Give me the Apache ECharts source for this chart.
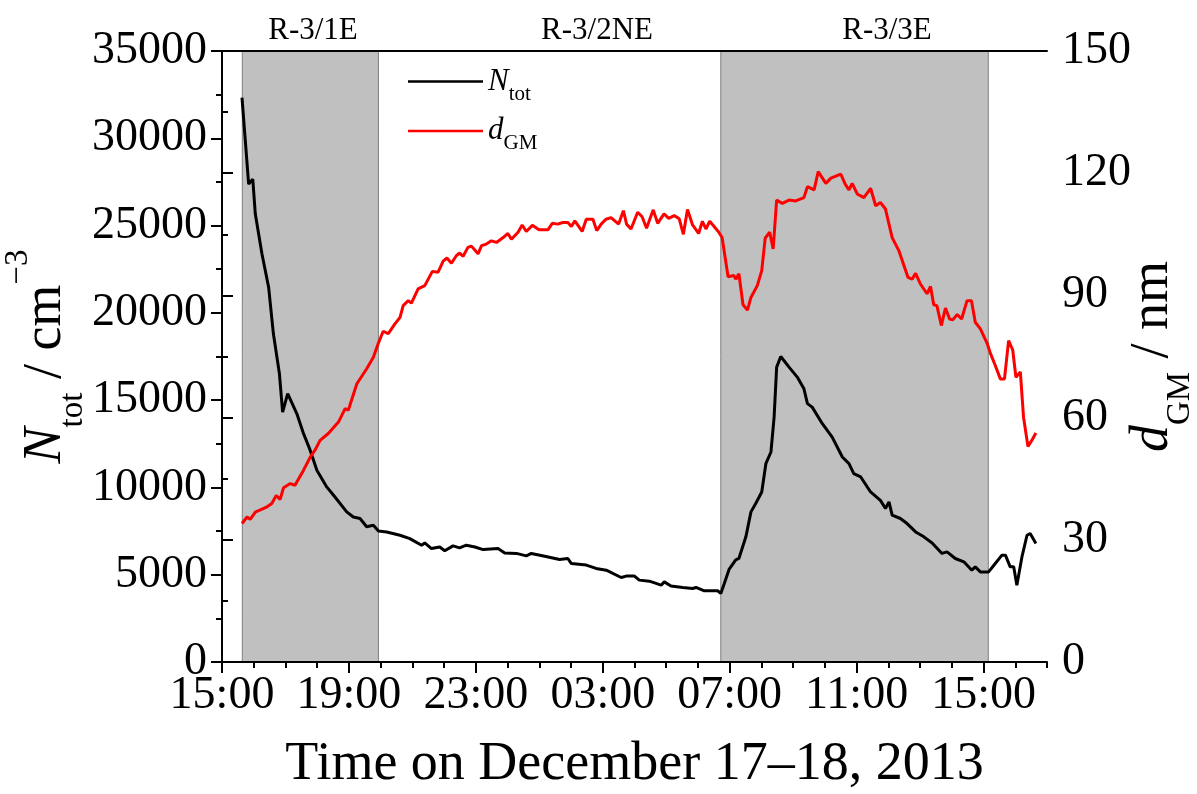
<!DOCTYPE html>
<html><head><meta charset="utf-8">
<script src="https://cdn.jsdelivr.net/npm/echarts@6/dist/echarts.min.js"></script>
<style>html,body{margin:0;padding:0;background:#fff}#c{width:1197px;height:794px}</style>
</head><body><div id="c"></div>
<script>
// time values: hours elapsed since 15:00 on 17 December 2013
const nTimes = [0.63,0.84,0.97,1.05,1.26,1.47,1.62,1.81,1.91,2.07,2.36,2.57,2.78,2.99,3.30,3.56,3.93,4.14,4.35,4.56,4.77,4.93,5.19,5.61,5.92,6.29,6.39,6.60,6.86,7.02,7.28,7.49,7.70,7.97,8.23,8.70,8.91,9.28,9.59,9.75,10.17,10.64,10.90,11.01,11.48,11.79,12.11,12.58,12.74,13.00,13.15,13.47,13.84,13.94,14.15,14.52,14.83,14.94,15.20,15.62,15.72,15.83,15.98,16.19,16.29,16.51,16.67,16.82,17.01,17.14,17.30,17.40,17.48,17.61,17.87,18.13,18.34,18.45,18.60,18.92,19.23,19.55,19.76,19.91,20.13,20.44,20.75,20.91,21.02,21.12,21.38,21.59,21.86,22.12,22.38,22.69,22.85,23.11,23.38,23.63,23.74,23.90,24.16,24.37,24.58,24.69,24.84,24.95,25.05,25.21,25.37,25.47,25.65];
const nValues = [32330,27380,27660,25660,23370,21460,18800,16510,14310,15370,14220,13080,12120,10980,10030,9450,8600,8310,8220,7750,7830,7500,7450,7260,7070,6690,6820,6500,6590,6370,6650,6540,6690,6590,6440,6500,6250,6220,6080,6220,6060,5870,5930,5640,5550,5360,5260,4840,4920,4920,4690,4630,4400,4590,4350,4270,4210,4270,4080,4080,3930,4500,5300,5850,5930,7170,8600,9080,9740,11360,12030,14030,16890,17500,16890,16320,15650,14800,14600,13650,12880,11740,11360,10790,10600,9740,9260,8790,9170,8410,8220,7930,7450,7170,6820,6220,6310,5930,5740,5260,5450,5160,5160,5640,6120,6120,5450,5450,4400,6020,7260,7360,6790];
const dTimes = [0.63,0.79,0.89,1.05,1.42,1.57,1.71,1.83,1.94,2.15,2.30,2.57,2.78,2.93,3.09,3.35,3.67,3.88,3.98,4.25,4.56,4.77,4.93,5.08,5.24,5.45,5.61,5.71,5.87,5.97,6.18,6.39,6.63,6.81,6.97,7.09,7.23,7.39,7.49,7.60,7.75,7.86,8.07,8.18,8.33,8.49,8.65,8.86,9.01,9.12,9.33,9.46,9.59,9.78,9.99,10.27,10.41,10.58,10.74,10.90,11.01,11.12,11.35,11.48,11.69,11.81,11.95,12.10,12.26,12.50,12.65,12.75,12.89,13.10,13.24,13.38,13.59,13.73,13.93,14.08,14.25,14.41,14.54,14.67,14.83,15.02,15.14,15.25,15.37,15.64,15.76,15.95,16.13,16.19,16.29,16.42,16.56,16.67,16.87,17.01,17.12,17.26,17.37,17.48,17.66,17.87,18.08,18.34,18.45,18.66,18.79,19.03,19.19,19.50,19.64,19.76,19.86,20.02,20.23,20.44,20.60,20.75,20.91,21.12,21.33,21.62,21.75,21.86,22.01,22.22,22.33,22.43,22.53,22.67,22.80,22.93,23.03,23.17,23.31,23.48,23.62,23.74,23.90,24.11,24.22,24.37,24.53,24.66,24.79,24.92,25.02,25.16,25.26,25.40,25.52,25.65];
const dValues = [34.0,35.6,35.0,36.8,38.1,38.9,40.9,39.9,42.8,43.8,43.4,47.1,50.3,52.0,54.4,56.1,58.9,62.2,61.8,68.3,72.0,74.8,78.3,81.2,80.6,83.0,84.6,87.5,88.7,88.1,91.6,92.4,95.9,95.7,98.4,99.2,97.9,99.8,100.4,99.6,101.8,102.1,100.2,102.2,102.6,103.4,103.0,104.2,105.2,103.8,105.5,107.3,105.7,107.2,106.1,106.1,107.7,107.5,107.9,107.9,106.9,108.3,105.7,108.7,108.7,105.9,107.5,108.7,109.1,107.5,110.8,107.5,106.3,110.4,109.3,106.5,111.0,107.7,110.0,108.9,109.6,108.8,105.0,111.1,107.3,105.2,108.2,106.3,108.2,105.7,104.2,94.6,94.9,94.0,95.3,87.7,86.4,89.5,92.4,96.1,104.1,105.5,101.4,113.4,112.6,113.4,113.2,114.0,116.7,115.9,120.4,117.5,118.8,119.8,117.3,115.9,117.5,114.9,114.0,116.3,112.0,112.8,111.2,104.2,101.0,94.4,94.0,95.4,92.8,90.4,92.2,87.7,87.5,82.6,86.9,84.2,84.0,85.3,84.2,88.7,88.7,83.4,81.8,78.3,75.7,72.8,69.5,69.5,78.9,76.6,69.9,71.2,60.1,52.9,54.4,56.2];
const shadedPeriods = [[0.64, 4.93], [15.72, 24.15]];
const periodLabels = ['R-3/1E', 'R-3/2NE', 'R-3/3E'];
const xTickLabels = ['15:00', '19:00', '23:00', '03:00', '07:00', '11:00', '15:00'];

const FONT = '"Liberation Serif","Times New Roman",serif';
const chart = echarts.init(document.getElementById('c'));
const tickStyle = { color: '#000', width: 2 };
const baseAxisLabel = { color: '#000', fontFamily: FONT, fontSize: 46 };

chart.setOption({
  animation: false,
  backgroundColor: '#fff',
  grid: { left: 222, right: 150, top: 51, bottom: 132, containLabel: false, outerBoundsMode: 'none' },
  legend: {
    left: 403, top: 61, orient: 'vertical', itemGap: 11,
    itemWidth: 75, itemHeight: 2.5, icon: 'rect', selectedMode: false,
    data: ['Ntot', 'dGM'],
    formatter: n => n === 'Ntot' ? '{i|N}{s|tot}' : '{i|d}{s|GM}',
    textStyle: {
      color: '#000', fontFamily: FONT,
      rich: {
        i: { fontFamily: FONT, fontSize: 31, fontStyle: 'italic', lineHeight: 46, verticalAlign: 'middle', color: '#000' },
        s: { fontFamily: FONT, fontSize: 21, lineHeight: 20, verticalAlign: 'bottom', color: '#000' }
      }
    }
  },
  xAxis: [
    {
      type: 'value', min: 0, max: 26, interval: 4, position: 'bottom', z: 10,
      axisLine: { show: true, lineStyle: tickStyle },
      axisTick: { show: true, inside: false, length: 11, lineStyle: tickStyle },
      splitLine: { show: false },
      axisLabel: Object.assign({}, baseAxisLabel, {
        margin: 11, showMaxLabel: false,
        formatter: v => (v % 4 === 0 ? xTickLabels[v / 4] : '')
      }),
      name: 'Time on December 17–18, 2013', nameLocation: 'middle', nameGap: 76,
      nameMoveOverlap: false,
      nameTextStyle: { color: '#000', fontFamily: FONT, fontSize: 54 }
    },
    {
      type: 'value', min: 0, max: 26, interval: 1, position: 'bottom', z: 10,
      axisLine: { show: false },
      axisTick: { show: true, inside: false, length: 6, lineStyle: tickStyle },
      axisLabel: { show: false }, splitLine: { show: false }
    },
    {
      type: 'value', min: 0, max: 26, position: 'top', z: 10,
      axisLine: { show: true, lineStyle: tickStyle },
      axisTick: { show: false }, axisLabel: { show: false }, splitLine: { show: false }
    }
  ],
  yAxis: [
    {
      type: 'value', min: 0, max: 35000, interval: 5000, position: 'left', z: 10,
      axisLine: { show: true, lineStyle: tickStyle },
      axisTick: { show: true, inside: false, length: 11, lineStyle: tickStyle },
      minorTick: { show: true, splitNumber: 2, length: 6, lineStyle: tickStyle },
      splitLine: { show: false }, minorSplitLine: { show: false },
      axisLabel: Object.assign({}, baseAxisLabel, { margin: 15, formatter: v => String(v) }),
      name: '{n|N}{s|tot}{t| / cm}{p|−3}', nameLocation: 'middle', nameRotate: 90, nameGap: 132,
      nameMoveOverlap: false,
      nameTextStyle: {
        color: '#000', fontFamily: FONT,
        rich: {
          n: { fontFamily: FONT, fontSize: 54, fontStyle: 'italic', lineHeight: 88, verticalAlign: 'middle', color: '#000' },
          t: { fontFamily: FONT, fontSize: 54, lineHeight: 88, verticalAlign: 'middle', color: '#000' },
          s: { fontFamily: FONT, fontSize: 33, lineHeight: 30, verticalAlign: 'bottom', color: '#000' },
          p: { fontFamily: FONT, fontSize: 33, lineHeight: 30, verticalAlign: 'top', color: '#000' }
        }
      }
    },
    {
      type: 'value', min: 0, max: 150, interval: 30, position: 'right', z: 10,
      axisLine: { show: true, lineStyle: tickStyle },
      axisTick: { show: true, inside: false, length: 11, lineStyle: tickStyle },
      minorTick: { show: true, splitNumber: 2, length: 6, lineStyle: tickStyle },
      splitLine: { show: false }, minorSplitLine: { show: false },
      axisLabel: Object.assign({}, baseAxisLabel, { margin: 15, formatter: v => String(v) }),
      name: '{n|d}{s|GM}{t| / nm}', nameLocation: 'middle', nameRotate: 90, nameGap: 62,
      nameMoveOverlap: false,
      nameTextStyle: {
        color: '#000', fontFamily: FONT,
        rich: {
          n: { fontFamily: FONT, fontSize: 54, fontStyle: 'italic', lineHeight: 88, verticalAlign: 'middle', color: '#000' },
          t: { fontFamily: FONT, fontSize: 54, lineHeight: 88, verticalAlign: 'middle', color: '#000' },
          s: { fontFamily: FONT, fontSize: 33, lineHeight: 30, verticalAlign: 'bottom', color: '#000' }
        }
      }
    }
  ],
  graphic: periodLabels.map((t, i) => ({
    type: 'text', x: [313, 597, 887][i], y: 31,
    style: { text: t, font: '31px ' + FONT, fill: '#000', textAlign: 'center', textVerticalAlign: 'middle' }
  })),
  series: [
    {
      name: 'Ntot', type: 'line', xAxisIndex: 0, yAxisIndex: 0, z: 3,
      showSymbol: false, symbol: 'none',
      lineStyle: { color: '#000', width: 3 }, itemStyle: { color: '#000' },
      data: nTimes.map((t, i) => [t, nValues[i]]),
      markArea: {
        silent: true,
        itemStyle: { color: '#c0c0c0', borderColor: '#7f7f7f', borderWidth: 1 },
        data: shadedPeriods.map(([a, b]) => [{ xAxis: a }, { xAxis: b }])
      }
    },
    {
      name: 'dGM', type: 'line', xAxisIndex: 0, yAxisIndex: 1, z: 4,
      showSymbol: false, symbol: 'none',
      lineStyle: { color: '#ff0000', width: 3 }, itemStyle: { color: '#ff0000' },
      data: dTimes.map((t, i) => [t, dValues[i]])
    }
  ]
});
</script></body></html>
